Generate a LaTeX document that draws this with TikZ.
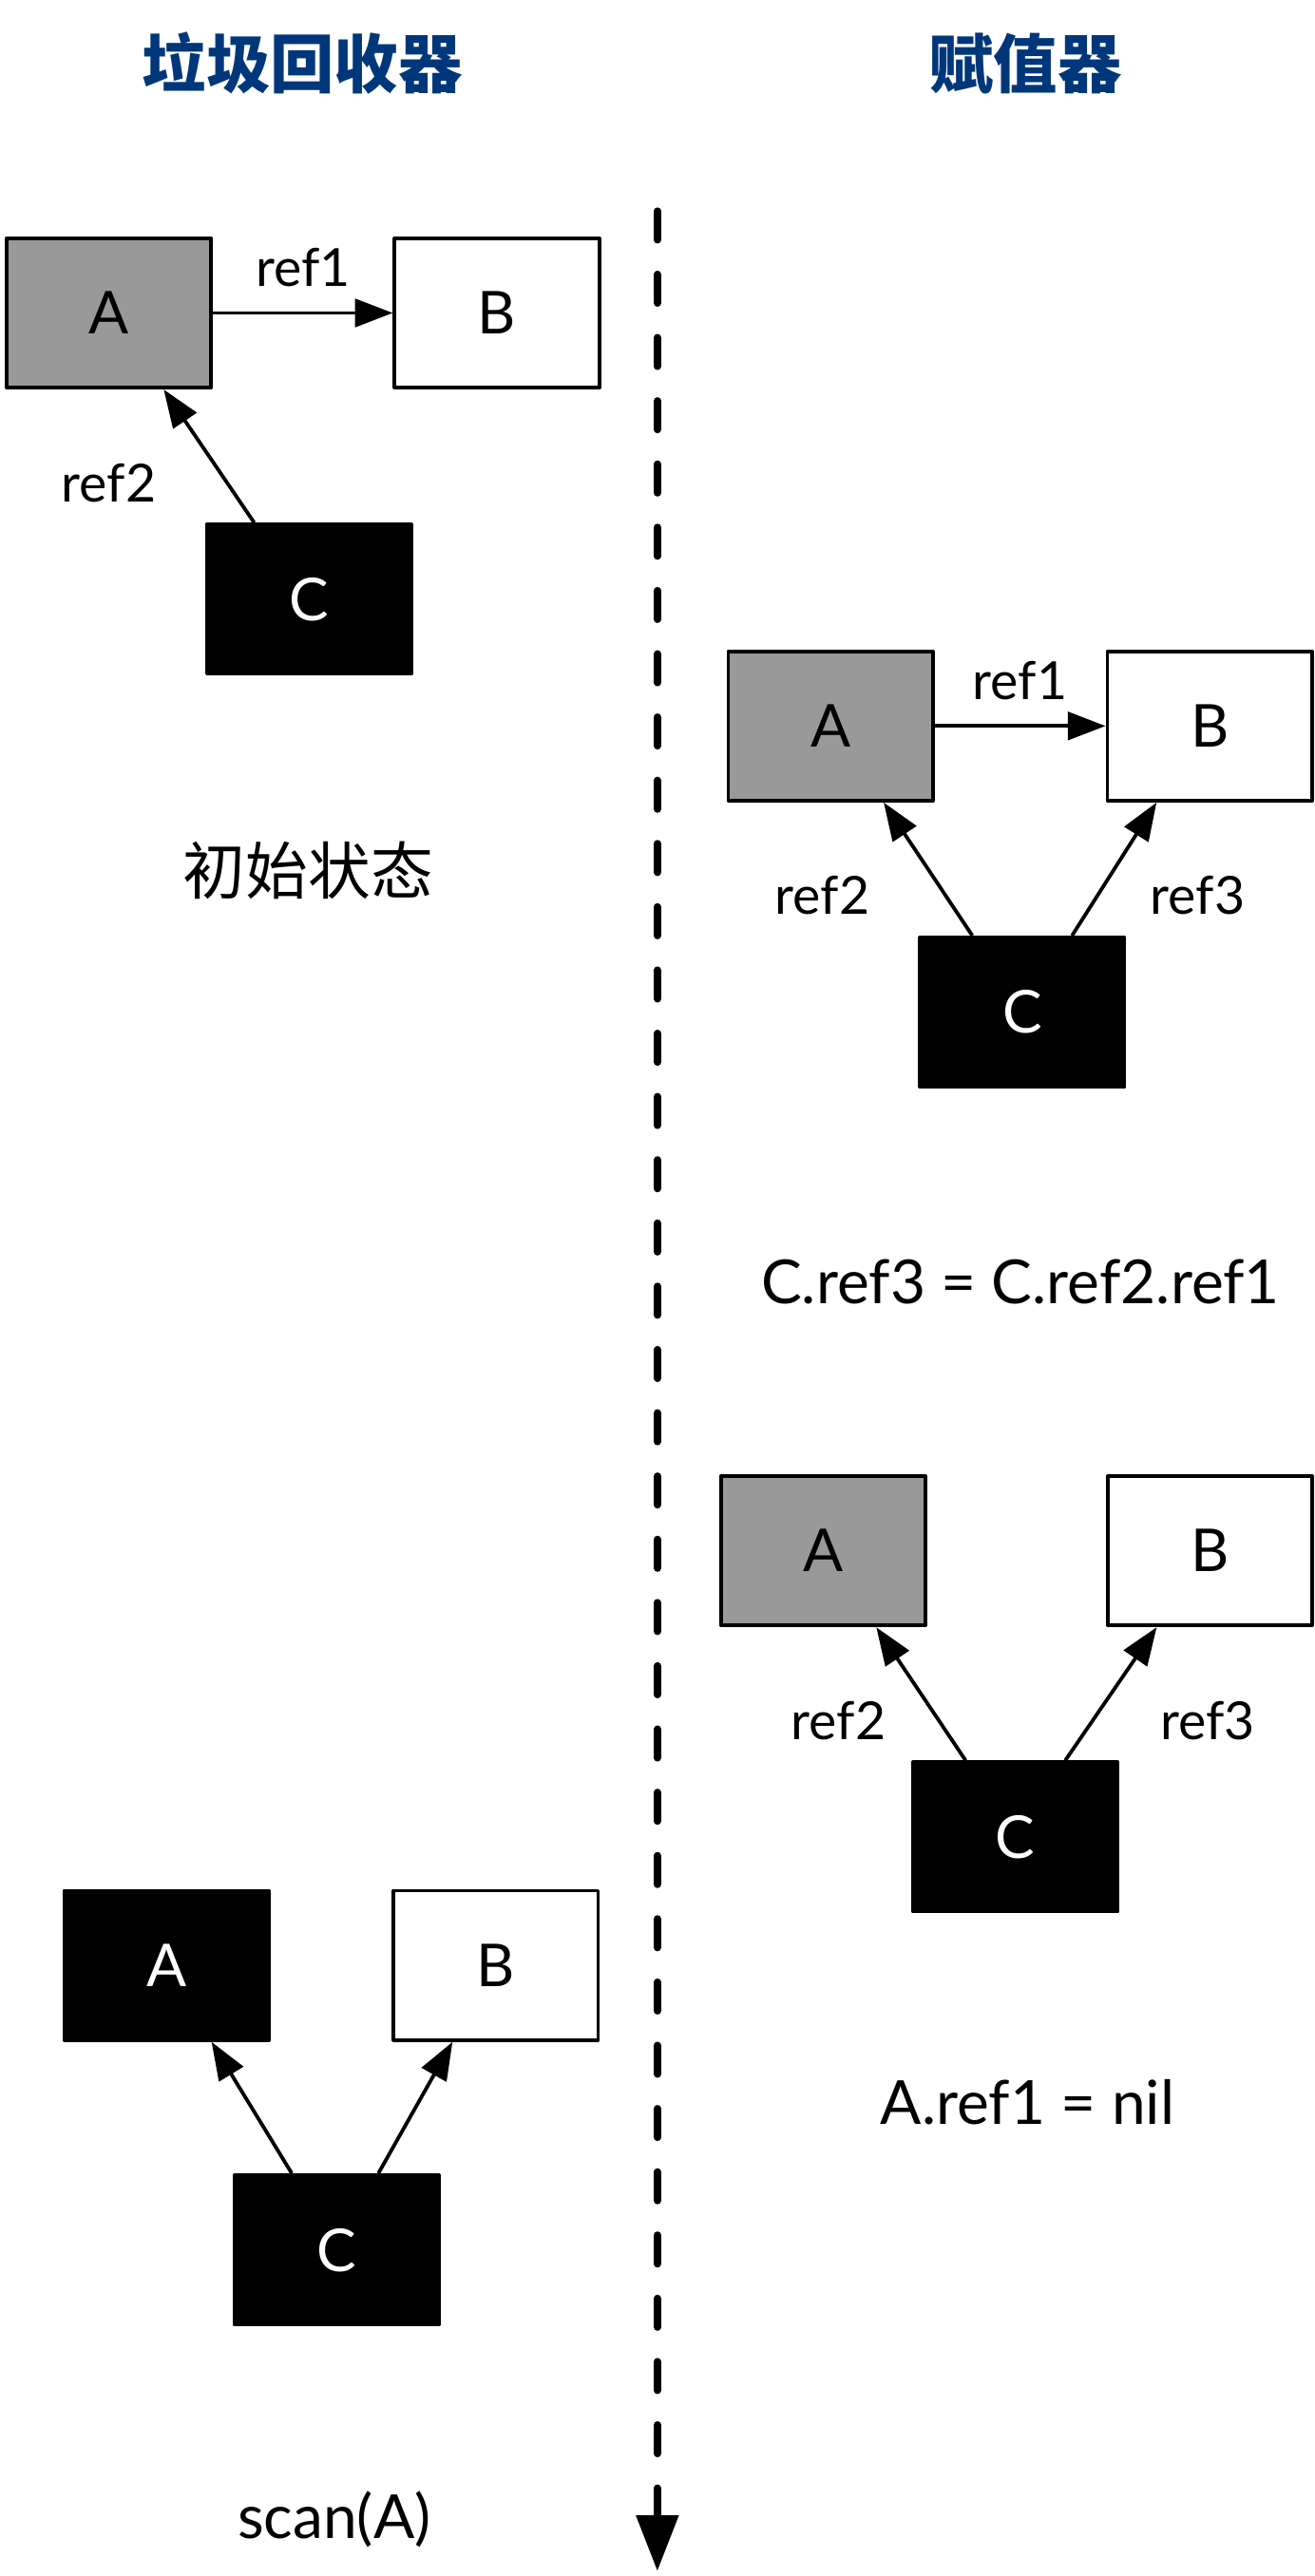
\documentclass[tikz,border=0pt]{standalone}
\usepackage{fontspec}
\setmainfont{Lato}
\newfontfamily\cjk{Noto Sans CJK SC}
\usetikzlibrary{arrows.meta,positioning}
\definecolor{objgrey}{HTML}{999999}
\definecolor{titleblue}{HTML}{00377A}

\begin{document}
\begin{tikzpicture}[
  x=1pt, y=1pt,
  obj/.style={draw, line width=2.2pt, line join=round, minimum width=124.5pt, minimum height=91pt, inner sep=0pt, font=\fontsize{36}{40}\selectfont},
  greyobj/.style={obj, fill=objgrey},
  whiteobj/.style={obj, fill=white},
  blackobj/.style={obj, fill=black, text=white},
  refarr/.style={-{Triangle[length=23pt, width=17pt]}, line width=2.2pt},
  lbl/.style={font=\fontsize{32}{36}\selectfont, inner sep=0pt},
  stmt/.style={font=\fontsize{37}{42}\selectfont, inner sep=0pt, anchor=base},
  cjktext/.style={font=\cjk\fontsize{38}{44}\selectfont, inner sep=0pt},
  heading/.style={font=\cjk\bfseries\fontsize{39}{44}\selectfont, text=titleblue, inner sep=0pt}
]
\useasboundingbox (0,0) rectangle (800,-1568);
\node[heading] (gctitle) at (184,-38.5) {垃圾回收器};
\node[heading] (mutitle) at (624,-38.5) {赋值器};
\coordinate (linetop) at (400,-128.5);
\coordinate (linebot) at (400,-1565);
\draw[line width=4.5pt, line cap=round, dash pattern=on 17.5pt off 21pt, -{Triangle[length=34pt, width=25pt]}] (linetop) -- (linebot);

\node[greyobj] (a1) at (66.3,-190.5) {A};
\node[whiteobj, right=109.4pt of a1] (b1) {B};
\node[blackobj, below=81pt of a1, xshift=121.7pt] (c1) {C};
\draw[refarr] (a1) -- node[lbl, above=15pt] {ref1} (b1);
\draw[refarr] ([xshift=30pt]c1.north west) -- node[lbl, pos=0.3, xshift=-72pt] {ref2} ([xshift=-30pt]a1.south east);
\node[cjktext] (s1) at (187.5,-530) {初始状态};

\node[greyobj] (a2) at (505.4,-441.9) {A};
\node[whiteobj, right=104pt of a2] (b2) {B};
\node[blackobj, below=81pt of a2, xshift=116.6pt] (c2) {C};
\draw[refarr] (a2) -- node[lbl, above=15pt] {ref1} (b2);
\draw[refarr] ([xshift=33pt]c2.north west) -- node[lbl, pos=0.3, xshift=-75pt] {ref2} ([xshift=-31pt]a2.south east);
\draw[refarr] ([xshift=-33pt]c2.north east) -- node[lbl, pos=0.3, xshift=61pt] {ref3} ([xshift=31pt]b2.south west);
\node[stmt] (s2) at (621,-793.4) {C.ref3 = C.ref2.ref1};

\node[greyobj] (a3) at (500.9,-943.9) {A};
\node[whiteobj, right=108.6pt of a3] (b3) {B};
\node[blackobj, below=81pt of a3, xshift=117pt] (c3) {C};
\draw[refarr] ([xshift=33pt]c3.north west) -- node[lbl, pos=0.3, xshift=-61pt] {ref2} ([xshift=-31pt]a3.south east);
\draw[refarr] ([xshift=-33pt]c3.north east) -- node[lbl, pos=0.3, xshift=70pt] {ref3} ([xshift=31pt]b3.south west);
\node[stmt] (s3) at (625.4,-1292.8) {A.ref1 = nil};

\node[blackobj] (a4) at (101.4,-1196.3) {A};
\node[whiteobj, right=73.6pt of a4] (b4) {B};
\node[blackobj, below=80pt of a4, xshift=103.5pt] (c4) {C};
\draw[refarr] ([xshift=36pt]c4.north west) -- ([xshift=-36pt]a4.south east);
\draw[refarr] ([xshift=-38pt]c4.north east) -- ([xshift=37pt]b4.south west);
\node[stmt] (s4) at (203.4,-1545.4) {scan(A)};
\end{tikzpicture}
\end{document}
